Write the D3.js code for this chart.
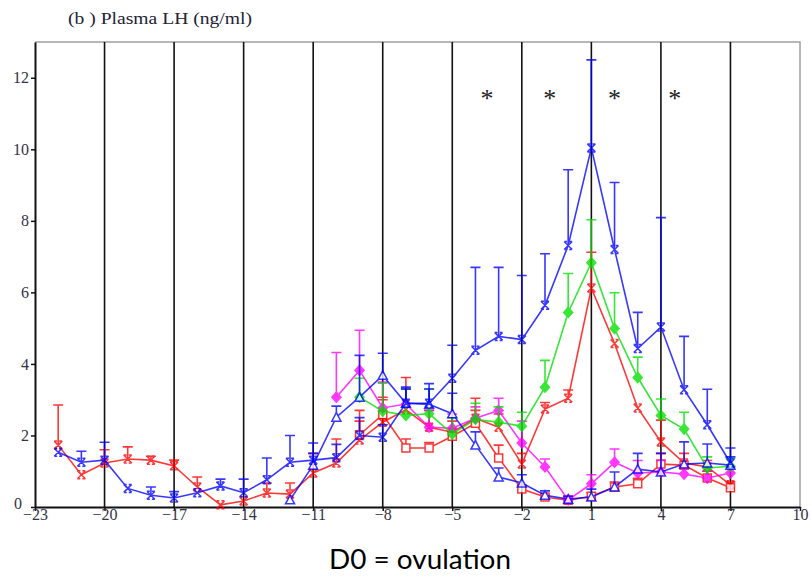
<!DOCTYPE html>
<html>
<head>
<meta charset="utf-8">
<script src="https://cdn.jsdelivr.net/npm/d3@7"></script>
<style>
  body { margin: 0; background: #fff; }
  .tickLabel { font-family: "Liberation Serif", "DejaVu Serif", serif; font-size: 16px; fill: #333344; }
  .title { font-family: "Liberation Serif", "DejaVu Serif", serif; font-size: 16px; fill: #222233; }
  .caption { font-family: Lato, "Open Sans", sans-serif; font-size: 26px; fill: #000; }
</style>
</head>
<body>
<svg id="chart-svg" width="811" height="577"></svg>
<script>
////////////////////////////////////////////////////////////////////////////////
// Data (days relative to ovulation, D0)
var days = [-22,-21,-20,-19,-18,-17,-16,-15,-14,-13,-12,-11,-10,-9,-8,-7,-6,-5,-4,-3,-2,-1,0,1,2,3,4,5,6,7];
var xTicks = [-23,-20,-17,-14,-11,-8,-5,-2,1,4,7,10];
var yTicks = [0,2,4,6,8,10,12];

// blue, cross markers
var blueXMean = [1.53,1.25,1.31,0.52,0.33,0.25,0.40,0.59,0.40,0.76,1.25,1.31,1.38,2.00,1.95,2.90,2.90,3.60,4.38,4.77,4.68,5.64,7.31,10.04,7.20,4.43,5.03,3.28,2.30,1.23];
var blueXUpper = [null,1.56,1.81,null,0.56,0.43,null,0.78,0.78,1.37,2.00,1.79,1.75,2.50,2.30,3.35,3.45,4.52,6.70,6.70,6.47,7.08,9.43,12.50,9.07,5.44,8.09,4.77,3.29,1.65];
// red, cross markers
var redXMean = [1.73,0.90,1.23,1.34,1.31,1.15,0.56,0.06,0.17,0.39,0.36,0.95,1.23,1.87,2.37,2.72,2.23,2.09,2.48,2.23,1.20,2.74,3.04,6.12,4.57,2.77,1.82,1.23,1.12,0.62];
var redXUpper = [2.85,null,1.60,1.68,1.42,1.31,0.84,null,null,0.67,0.67,1.50,1.90,2.70,3.07,3.62,2.70,2.40,3.04,2.60,1.50,2.92,3.27,7.12,null,null,2.43,null,1.30,null];
// blue, open triangles (from D-12)
var blueTriMean = [null,null,null,null,null,null,null,null,null,null,0.20,1.17,2.51,3.07,3.68,2.90,2.87,2.61,1.73,0.84,0.67,0.33,0.22,0.28,0.56,1.06,0.98,1.20,1.23,1.17];
var blueTriUpper = [null,null,null,null,null,null,null,null,null,null,null,1.50,2.82,4.24,4.30,3.30,3.30,3.18,2.10,1.09,0.90,0.45,0.30,0.50,0.98,1.50,1.50,1.82,1.76,1.40];
// green, filled diamonds (from D-9)
var greenMean = [null,null,null,null,null,null,null,null,null,null,null,null,null,3.07,2.68,2.56,2.61,2.04,2.45,2.37,2.26,3.35,5.44,6.83,4.99,3.62,2.56,2.18,1.09,1.14];
var greenUpper = [null,null,null,null,null,null,null,null,null,null,null,null,null,3.60,3.46,3.30,3.30,2.50,2.90,2.80,2.65,4.10,6.53,8.03,5.99,4.19,3.02,2.65,1.40,1.36];
// magenta, filled diamonds (from D-10)
var magentaMean = [null,null,null,null,null,null,null,null,null,null,null,null,3.07,3.82,2.77,2.88,2.23,2.20,2.48,2.70,1.79,1.12,0.20,0.65,1.25,0.95,0.98,0.92,0.81,0.95];
var magentaUpper = [null,null,null,null,null,null,null,null,null,null,null,null,4.32,4.94,3.49,3.30,2.70,2.60,2.80,3.04,2.40,1.34,0.30,0.90,1.62,1.30,1.30,1.10,1.00,1.10];
// red, open squares (from D-9)
var redSqMean = [null,null,null,null,null,null,null,null,null,null,null,null,null,2.02,2.58,1.65,1.65,1.98,2.34,1.37,0.50,0.28,0.19,0.30,0.56,0.65,1.20,1.17,0.81,0.54];
var redSqUpper = [null,null,null,null,null,null,null,null,null,null,null,null,null,2.40,3.00,1.90,1.80,2.10,2.70,1.73,0.60,0.35,0.25,0.40,0.70,0.80,1.50,1.50,1.00,0.70];

// significance stars
var starDays = [-3.5,-0.8,2,4.6];
var starLevel = 11.5;

////////////////////////////////////////////////////////////////////////////////
const svg = d3.select("#chart-svg");
var x = d3.scaleLinear().domain([-23,10]).range([35,800]);
var y = d3.scaleLinear().domain([0,13]).range([507,42]);

var seriesList = [
  { mean: redXMean, upper: redXUpper, color: "#ff0000", marker: "x" },
  { mean: redSqMean, upper: redSqUpper, color: "#ff0000", marker: "square" },
  { mean: magentaMean, upper: magentaUpper, color: "#ff00ff", marker: "diamond" },
  { mean: greenMean, upper: greenUpper, color: "#00e000", marker: "diamond" },
  { mean: blueTriMean, upper: blueTriUpper, color: "#0000ff", marker: "triangle" },
  { mean: blueXMean, upper: blueXUpper, color: "#0000ff", marker: "x" }
];

function markerPath(type) {
  if (type == "x") { return "M-4,-4L4,4M-4,4L4,-4M-4,-4L-1,-4M1,-4L4,-4M-4,4L-1,4M1,4L4,4"; }
  else if (type == "diamond") { return "M0,-5L4.5,0L0,5L-4.5,0Z"; }
  else if (type == "square") { return "M-4,-4L4,-4L4,4L-4,4Z"; }
  else { return "M0,-4.5L4.5,4L-4.5,4Z"; }
}; // end markerPath

function setup() {
  // frame: top and right in gray
  svg.append("path")
     .attr("d", "M" + x(-23) + "," + y(13) + "H" + x(10) + "V" + y(0))
     .attr("fill", "none").attr("stroke", "#a0a0a0").attr("stroke-width", 1.5);

  // vertical day lines
  svg.selectAll(".vline")
     .data(xTicks.filter(function(d) { return d > -23 && d < 10; }))
     .enter()
     .append("line")
     .attr("x1", function(d) { return x(d); })
     .attr("x2", function(d) { return x(d); })
     .attr("y1", y(13))
     .attr("y2", y(0))
     .attr("stroke", "#111")
     .attr("stroke-width", 1.6);

  // axes
  var xAxis = svg.append("g")
     .attr("transform", "translate(0," + y(0) + ")")
     .call(d3.axisBottom(x).tickValues(xTicks).tickSize(4).tickSizeOuter(0));
  var yAxis = svg.append("g")
     .attr("transform", "translate(" + x(-23) + ",0)")
     .call(d3.axisLeft(y).tickValues(yTicks).tickSize(4).tickSizeOuter(0));
  [xAxis, yAxis].forEach(function(g) {
    g.select(".domain").attr("stroke", "#111").attr("stroke-width", 2);
    g.selectAll(".tick line").attr("stroke", "#111").attr("stroke-width", 1.5);
    g.selectAll(".tick text").attr("class", "tickLabel").attr("font-family", null).attr("font-size", null);
  });
  xAxis.selectAll(".tick text").attr("dy", "0.5em").attr("y", 5);
  yAxis.selectAll(".tick text").attr("x", -6);
  // "0" on the y axis sits a bit higher and further left
  yAxis.selectAll(".tick text").filter(function(d) { return d == 0; }).attr("x", -13).attr("dy", "0.1em");

  // series
  var line = d3.line()
     .defined(function(d) { return d.v != null; })
     .x(function(d) { return x(d.day); })
     .y(function(d) { return y(d.v); });

  seriesList.forEach(function(s) {
    var pts = days.map(function(d, i) { return { day: d, v: s.mean[i], up: s.upper[i] }; });
    var g = svg.append("g").attr("opacity", 0.78);
    // error bars (upper only)
    var eb = pts.filter(function(p) { return p.v != null && p.up != null; });
    g.selectAll(".err")
     .data(eb)
     .enter()
     .append("path")
     .attr("d", function(p) {
       return "M" + x(p.day) + "," + y(p.v) + "V" + y(p.up) + "M" + (x(p.day) - 5) + "," + y(p.up) + "H" + (x(p.day) + 5);
     })
     .attr("fill", "none")
     .attr("stroke", s.color)
     .attr("stroke-width", 1.6);
    g.append("path")
     .datum(pts)
     .attr("d", line)
     .attr("fill", "none")
     .attr("stroke", s.color)
     .attr("stroke-width", 1.6);
    g.selectAll(".mk")
     .data(pts.filter(function(p) { return p.v != null; }))
     .enter()
     .append("path")
     .attr("transform", function(p) { return "translate(" + x(p.day) + "," + y(p.v) + ")"; })
     .attr("d", markerPath(s.marker))
     .attr("fill", (s.marker == "diamond") ? s.color : (s.marker == "x" ? "none" : "#fff"))
     .attr("stroke", s.color)
     .attr("stroke-width", 1.5);
  });

  // stars
  svg.selectAll(".star")
     .data(starDays)
     .enter()
     .append("text")
     .attr("x", function(d) { return x(d); })
     .attr("y", y(starLevel) + 11)
     .attr("text-anchor", "middle")
     .attr("font-family", "Liberation Serif, serif")
     .attr("font-size", 26)
     .attr("fill", "#222")
     .text("*");

  // title and caption
  svg.append("text")
     .attr("class", "title")
     .attr("x", 68).attr("y", 24)
     .attr("textLength", 184)
     .attr("lengthAdjust", "spacingAndGlyphs")
     .text("(b ) Plasma LH (ng/ml)");
  svg.append("text")
     .attr("class", "caption")
     .attr("x", 420).attr("y", 569)
     .attr("text-anchor", "middle")
     .attr("textLength", 182)
     .attr("lengthAdjust", "spacingAndGlyphs")
     .text("D0 = ovulation");
}; // end setup

setup();
</script>
</body>
</html>
